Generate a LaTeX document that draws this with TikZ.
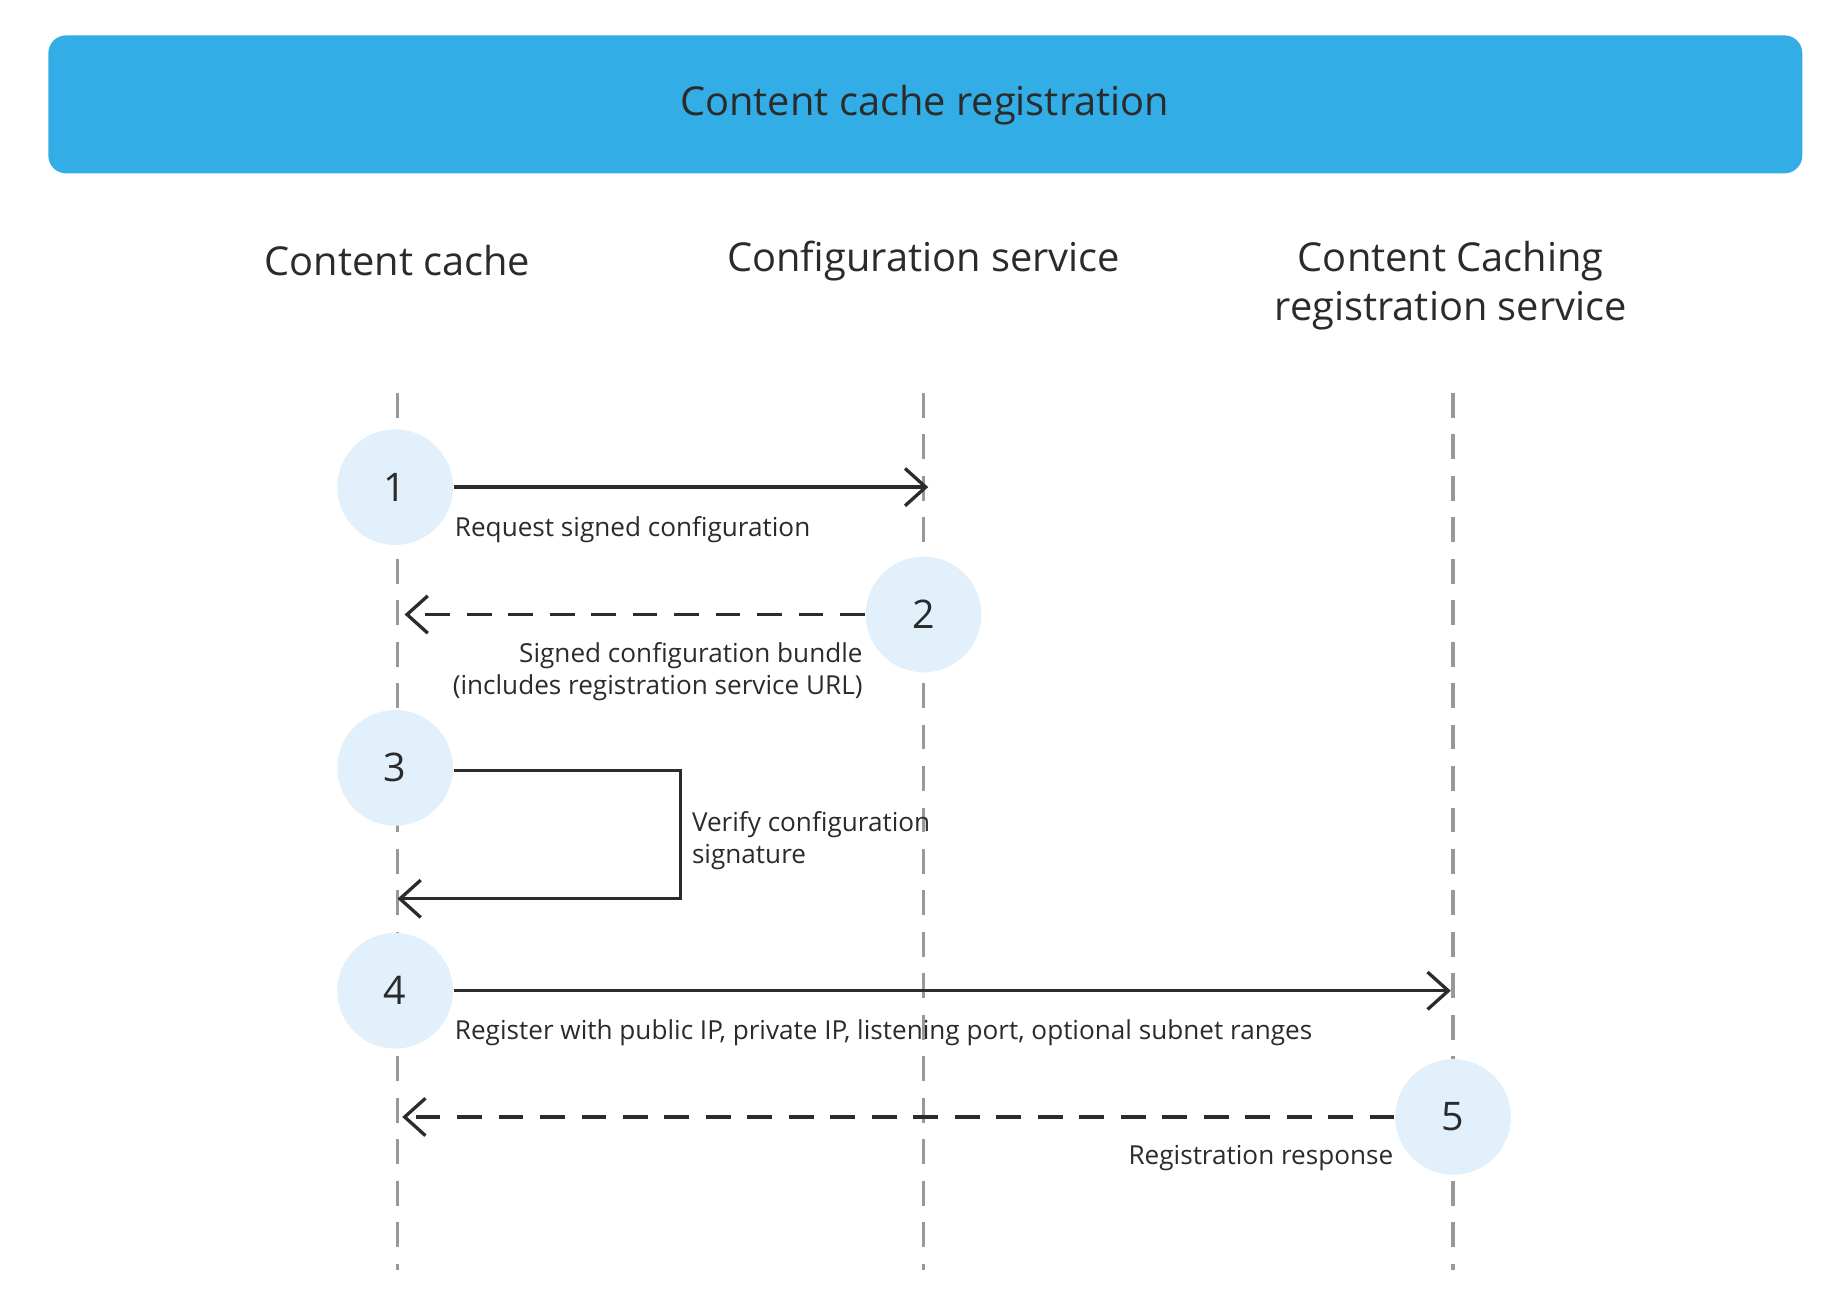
\documentclass[tikz,border=0pt]{standalone}
\usepackage{fontspec}
\setmainfont{Open Sans}
\usetikzlibrary{positioning,arrows.meta}
\definecolor{banner}{HTML}{33ADE6}
\definecolor{bubble}{HTML}{E1F0FA}
\definecolor{ink}{HTML}{2B2B2B}
\tikzset{
  lifeline/.style={thick, dashed, gray!80, dash pattern=on 6pt off 4pt},
  stepnum/.style={circle, fill=bubble, minimum size=0.98cm, inner sep=0pt, font=\fontsize{9.5}{11}\selectfont, text=ink},
  msg/.style={thick, ink, -{Straight Barb[length=5pt,width=9pt]}},
  reply/.style={msg, dashed, dash pattern=on 6pt off 4pt},
  small/.style={font=\fontsize{6.3}{7.8}\selectfont, text=ink, inner sep=0pt},
  head/.style={font=\fontsize{9.6}{11.8}\selectfont, text=ink, align=center}
}
\begin{document}
\begin{tikzpicture}[x=0.01cm, y=-0.01cm]
\useasboundingbox (0,0) rectangle (1560,1107);
\fill[banner, rounded corners=0.15cm] (41,30) rectangle (1528,147);
\node[head] (title) at (784,89) {Content cache registration};

\node[head] (cache) at (337,221) {Content cache};
\node[head] (config) at (783,221) {Configuration service};
\node[head] (reg) at (1230,242) {Content Caching\\registration service};

% lifelines
\coordinate (c0) at (337,333); \coordinate (c1) at (337,1077);
\coordinate (s0) at (783,333); \coordinate (s1) at (783,1077);
\coordinate (r0) at (1232,333); \coordinate (r1) at (1232,1077);
\draw[lifeline] (c0) -- (c1);
\draw[lifeline] (s0) -- (s1);
\draw[lifeline] (r0) -- (r1);

% steps
\node[stepnum] (n1) at (335,413) {1};
\node[stepnum] (n2) at (783,521) {2};
\node[stepnum] (n3) at (335,651) {3};
\node[stepnum] (n4) at (335,840) {4};
\node[stepnum] (n5) at (1232,947) {5};

\coordinate (e1) at (787,413);
\coordinate (e2) at (343,521);
\coordinate (k3) at (577,653);
\coordinate (e3) at (337,762);
\coordinate (e4) at (1230,840);
\coordinate (e5) at (341,947);

\draw[msg] (n1) -- (e1);
\draw[reply] (n2) -- (e2);
\draw[msg] (n3.east |- k3) -- (k3) |- (e3);
\draw[msg] (n4) -- (e4);
\draw[reply] (n5) -- (e5);

\node[small, anchor=north west] (l1) at (385,437) {Request signed configuration};
\node[small, anchor=north east, align=right] (l2) at (732,544) {Signed configuration bundle\\(includes registration service URL)};
\node[small, anchor=north west, align=left] (l3) at (586,687) {Verify configuration\\signature};
\node[small, anchor=north west] (l4) at (385,864) {Register with public IP, private IP, listening port, optional subnet ranges};
\node[small, anchor=north east] (l5) at (1182,970) {Registration response};
\end{tikzpicture}
\end{document}
